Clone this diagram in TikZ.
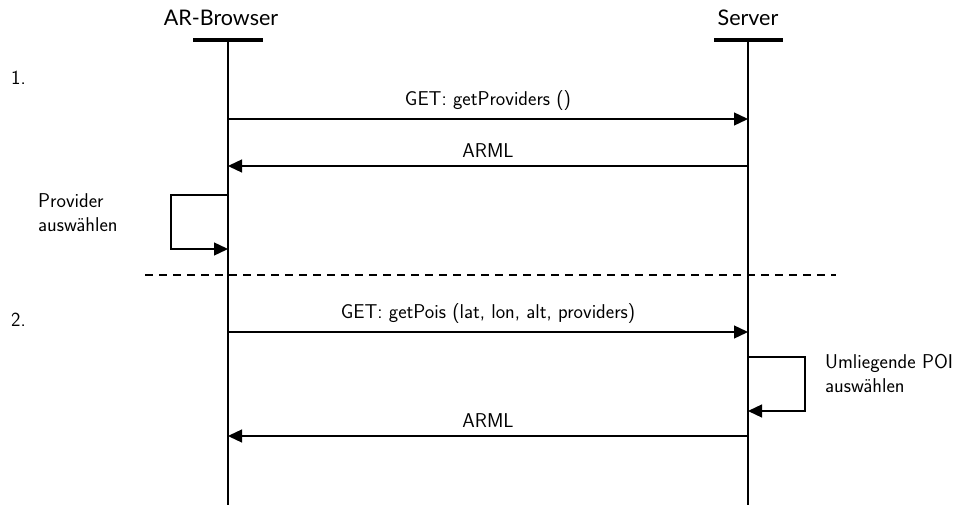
\documentclass[tikz,border=0pt]{standalone}
\usepackage{fontspec}
\newfontfamily\headfont{Lato}
\usetikzlibrary{arrows.meta}
\tikzset{
  lbl/.style={font=\sffamily\fontsize{20}{24}\selectfont, inner sep=0pt},
  headlbl/.style={font=\headfont\fontsize{21.5}{26}\selectfont, inner sep=0pt},
  sidelbl/.style={lbl, anchor=north west, align=left},
  lifeline/.style={line width=1.3pt},
  headbar/.style={line width=4.5pt},
  msg/.style={line width=1.3pt, -{Triangle[length=14pt,width=13pt]}},
  sep/.style={line width=1.5pt, dash pattern=on 8pt off 6pt},
}
\begin{document}
\begin{tikzpicture}[x=1pt,y=-1pt]
\useasboundingbox (0,0) rectangle (962,505);
% participants
\node[headlbl] (brName) at (221,18) {AR-Browser};
\node[headlbl] (srvName) at (748,18) {Server};
\coordinate (brTop) at (228,40);
\coordinate (brBot) at (228,505);
\coordinate (srvTop) at (748,40);
\coordinate (srvBot) at (748,505);
\draw[headbar] (193,40) -- (263,40);
\draw[headbar] (714,40) -- (783,40);
\draw[lifeline] (brTop) -- (brBot);
\draw[lifeline] (srvTop) -- (srvBot);
% phase labels
\node[lbl, anchor=west] (p1) at (11,78) {1.};
\node[lbl, anchor=west] (p2) at (11,320) {2.};
% phase 1
\coordinate (m1a) at (228,119);
\coordinate (m1b) at (748,119);
\draw[msg] (m1a) -- node[lbl, above=8pt] (m1l) {GET: getProviders ()} (m1b);
\coordinate (m2a) at (748,166);
\coordinate (m2b) at (228,166);
\draw[msg] (m2a) -- node[lbl, above=8pt] (m2l) {ARML} (m2b);
\coordinate (s1a) at (228,195);
\coordinate (s1b) at (228,249);
\draw[msg] (s1a) -- (171,195) -- (171,249) -- (s1b);
\node[sidelbl] (s1l) at (38,193) {Provider\\auswählen};
% separator
\coordinate (sepL) at (145,275);
\coordinate (sepR) at (836,275);
\draw[sep] (sepL) -- (sepR);
% phase 2
\coordinate (m3a) at (228,332);
\coordinate (m3b) at (748,332);
\draw[msg] (m3a) -- node[lbl, above=8pt] (m3l) {GET: getPois (lat, lon, alt, providers)} (m3b);
\coordinate (s2a) at (748,357);
\coordinate (s2b) at (748,411);
\draw[msg] (s2a) -- (805,357) -- (805,411) -- (s2b);
\node[sidelbl] (s2l) at (825,354) {Umliegende POI\\auswählen};
\coordinate (m4a) at (748,436);
\coordinate (m4b) at (228,436);
\draw[msg] (m4a) -- node[lbl, above=8pt] (m4l) {ARML} (m4b);
\end{tikzpicture}
\end{document}
